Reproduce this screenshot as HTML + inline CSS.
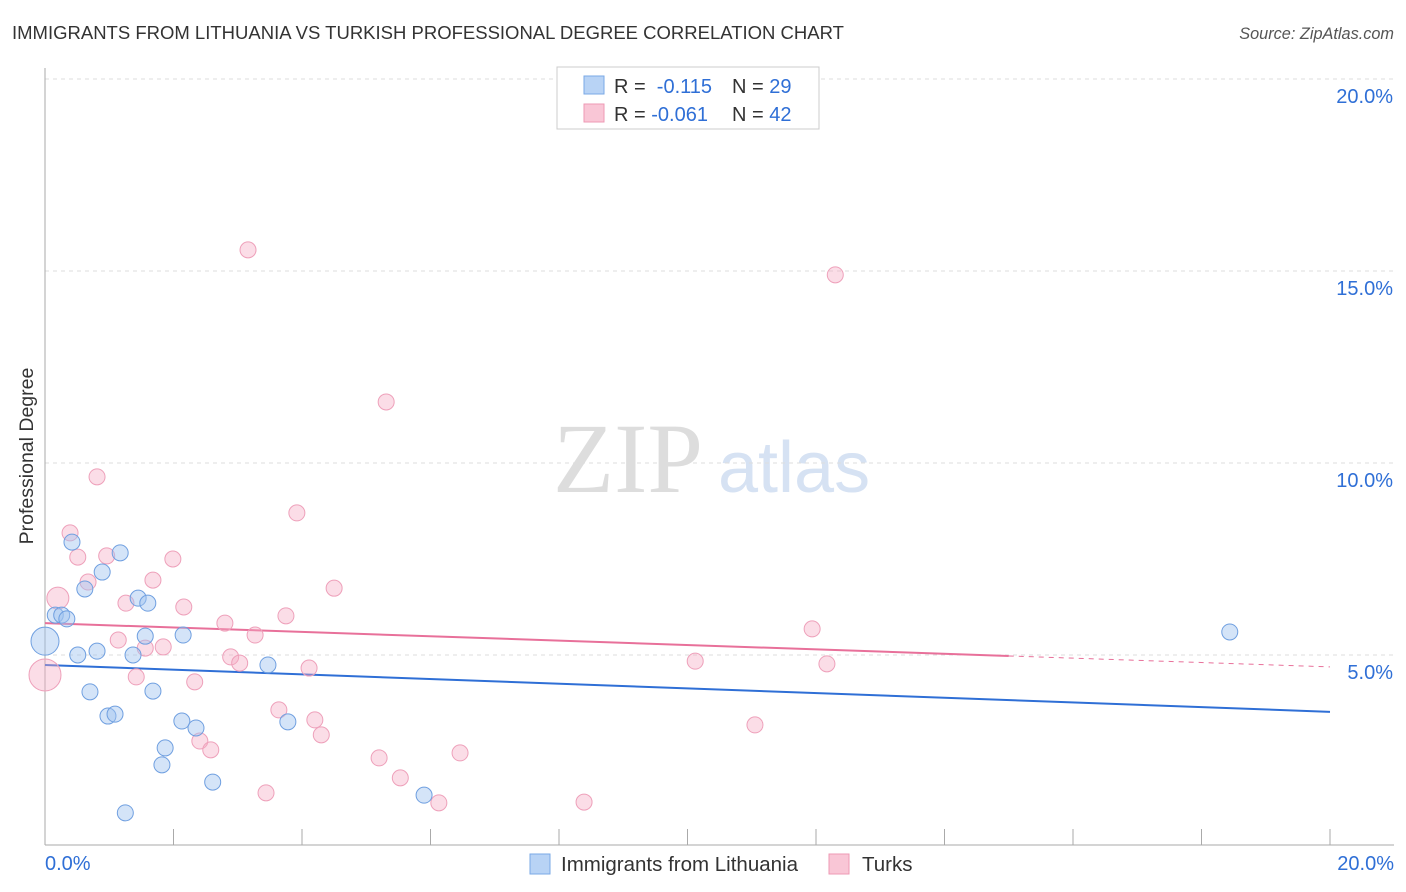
<!DOCTYPE html>
<html><head><meta charset="utf-8">
<style>
body{margin:0;background:#fff;font-family:"Liberation Sans",sans-serif;}
svg{display:block}
</style></head>
<body>
<svg id="chart" width="1406" height="892">
<text x="12" y="39" font-size="18.5" fill="#333">IMMIGRANTS FROM LITHUANIA VS TURKISH PROFESSIONAL DEGREE CORRELATION CHART</text>
<text x="1394" y="39" font-size="16.3" fill="#555" font-style="italic" text-anchor="end">Source: ZipAtlas.com</text>
<text x="33" y="456" font-size="19.5" fill="#333" text-anchor="middle" transform="rotate(-90 33 456)">Professional Degree</text>
<text x="553" y="492" font-size="100" fill="#ddd" font-family="Liberation Serif,serif">ZIP</text>
<text x="718" y="492" font-size="72" fill="#d6e2f3">atlas</text>
<g id="grid"></g><g id="axes"></g><g id="trend"></g><g id="points"></g>
<g>
<rect x="557" y="67" width="262" height="62" fill="#fff" stroke="#ccc"/>
<rect x="584" y="76" width="20" height="18" fill="#b8d3f5" stroke="#7aa8e6"/>
<rect x="584" y="104" width="20" height="18" fill="#f9c6d6" stroke="#ee99b4"/>
<text x="614" y="93" font-size="20" fill="#333">R = <tspan fill="#2f6fd6">&#160;-0.115</tspan><tspan x="732">N = </tspan><tspan fill="#2f6fd6">29</tspan></text>
<text x="614" y="121" font-size="20" fill="#333">R = <tspan fill="#2f6fd6">-0.061</tspan><tspan x="732">N = </tspan><tspan fill="#2f6fd6">42</tspan></text>
</g>
<g>
<rect x="530" y="854" width="20" height="20" fill="#b8d3f5" stroke="#7aa8e6"/>
<text x="561" y="871" font-size="20.5" fill="#333">Immigrants from Lithuania</text>
<rect x="829" y="854" width="20" height="20" fill="#f9c6d6" stroke="#ee99b4"/>
<text x="862" y="871" font-size="20.5" fill="#333">Turks</text>
</g>
</svg>
<script>
const blueX=[0,0.16,0.26,0.34,0.42,0.62,0.89,1.17,0.51,0.81,0.70,0.98,1.09,1.45,1.60,1.56,1.37,2.15,1.68,1.87,1.82,2.13,2.35,2.61,3.47,3.78,5.90,1.25,18.44];
const blueY=[5.36,6.04,6.04,5.94,7.94,6.72,7.16,7.66,5.0,5.10,4.04,3.41,3.46,6.48,6.35,5.49,5.0,5.52,4.06,2.58,2.14,3.28,3.10,1.69,4.74,3.26,1.35,0.89,5.60];
const pinkX=[0,0.20,0.39,0.81,0.51,0.67,0.96,1.26,1.14,1.42,1.56,1.68,1.99,1.84,2.16,2.33,2.41,2.58,2.80,2.89,3.03,3.27,3.16,3.64,3.44,3.75,3.92,4.11,4.20,4.30,4.50,5.20,5.31,5.53,6.13,6.46,8.39,10.12,11.05,11.94,12.17,12.30];
const pinkY=[4.48,6.48,8.18,9.64,7.55,6.90,7.58,6.35,5.39,4.43,5.18,6.95,7.50,5.21,6.25,4.30,2.76,2.53,5.83,4.95,4.79,5.52,15.55,3.57,1.41,6.02,8.70,4.66,3.31,2.92,6.74,2.32,11.59,1.80,1.15,2.45,1.17,4.84,3.18,5.68,4.77,14.90];
const yTicks=[5,10,15,20];
const yTickLabels=["5.0%","10.0%","15.0%","20.0%"];
const xTicks=[0,2,4,6,8,10,12,14,16,18,20];
const blueTrend=[4.74,3.52];
const pinkTrend=[5.83,4.69];
const pinkSolidEnd=15;

const NS="http://www.w3.org/2000/svg";
const X=v=>45+v*64.25, Y=v=>847-v*38.4;
function mk(parent,tag,attrs){const e=document.createElementNS(NS,tag);for(const k in attrs)e.setAttribute(k,attrs[k]);document.getElementById(parent).appendChild(e);return e;}

yTicks.forEach((t,i)=>{
  const l=mk('grid','line',{x1:45,x2:1394,y1:Y(t),y2:Y(t),stroke:'#ddd','stroke-dasharray':'4 4'});
  
  
  const tx=mk('grid','text',{x:1393,y:Y(t)+24,'font-size':20,fill:'#2f6fd6','text-anchor':'end'});
  tx.textContent=yTickLabels[i];
  
  
});
const ax=mk('axes','line',{x1:45,x2:1394,y1:845,y2:845,stroke:'#aaa'});


const ay=mk('axes','line',{x1:45,x2:45,y1:68,y2:845,stroke:'#aaa'});


xTicks.forEach(t=>{
  const l=mk('axes','line',{x1:X(t),x2:X(t),y1:829,y2:845,stroke:'#aaa'});
  
  
});
const xl0=mk('axes','text',{x:45,y:870,'font-size':20,fill:'#2f6fd6'});xl0.textContent="0.0%";


const xl1=mk('axes','text',{x:1394,y:870,'font-size':20,fill:'#2f6fd6','text-anchor':'end'});xl1.textContent="20.0%";



const bt=mk('trend','line',{x1:X(0),y1:Y(blueTrend[0]),x2:X(20),y2:Y(blueTrend[1]),stroke:'#2f6fd6','stroke-width':2});


const pm=pinkTrend[0]+(pinkTrend[1]-pinkTrend[0])*pinkSolidEnd/20;
const pt=mk('trend','line',{x1:X(0),y1:Y(pinkTrend[0]),x2:X(pinkSolidEnd),y2:Y(pm),stroke:'#e8709a','stroke-width':2});


const pd=mk('trend','line',{x1:X(pinkSolidEnd),y1:Y(pm),x2:X(20),y2:Y(pinkTrend[1]),stroke:'#e8709a','stroke-width':1,'stroke-dasharray':'5 5'});



pinkX.forEach((v,i)=>{
  const r=i===0?16:(i===1?11:8);
  const c=mk('points','circle',{cx:X(v),cy:Y(pinkY[i]),r:r,fill:'rgba(244,170,195,0.4)',stroke:'#eea0ba','stroke-width':1});
  
  
});
blueX.forEach((v,i)=>{
  const r=i===0?14:8;
  const c=mk('points','circle',{cx:X(v),cy:Y(blueY[i]),r:r,fill:'rgba(160,195,240,0.45)',stroke:'#6f9fe0','stroke-width':1});
  
  
});
</script>
</body></html>
